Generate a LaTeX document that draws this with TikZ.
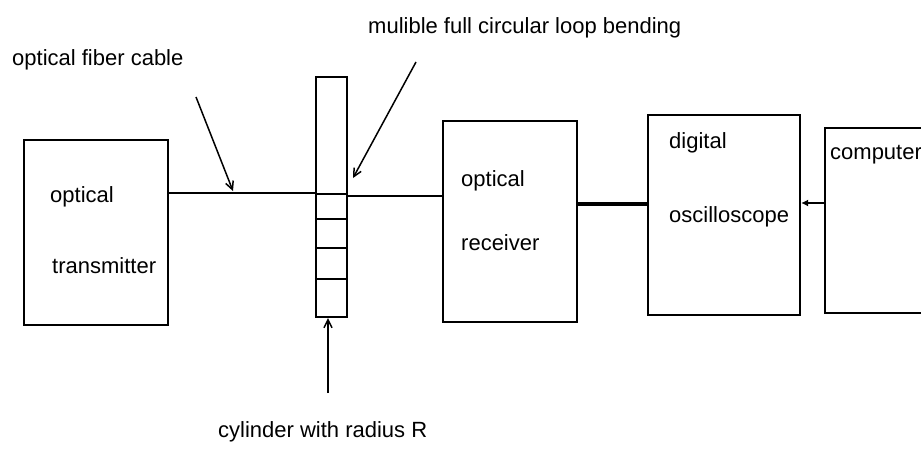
\documentclass[tikz,border=0pt]{standalone}
\usepackage{fontspec}
\setmainfont{Liberation Sans}
\usetikzlibrary{arrows.meta}
\begin{document}
\begin{tikzpicture}[x=1pt,y=-1pt,
  box/.style={draw,line width=2.2pt,inner sep=0pt},
  lbl/.style={anchor=base west,inner sep=0pt,font=\fontsize{22}{25}\selectfont},
  wire/.style={line width=2pt},
  pointer/.style={line width=1.5pt,-{Straight Barb[length=8pt,width=8pt]}}]
\useasboundingbox (0,0) rectangle (921,450);
\clip (0,0) rectangle (921,450);
% boxes
\node[box,minimum width=144pt,minimum height=185pt] (tx) at (96,232.5) {};
\node[box,minimum width=31pt,minimum height=240pt] (cyl) at (331.5,197) {};
\node[box,minimum width=134pt,minimum height=201pt] (rx) at (510,221.5) {};
\node[box,minimum width=152pt,minimum height=200pt] (osc) at (724,215) {};
\node[box,minimum width=110pt,minimum height=185pt] (pc) at (880,220.5) {};
% cylinder sections
\coordinate (s1) at (0,194);
\coordinate (s2) at (0,219);
\coordinate (s3) at (0,248);
\coordinate (s4) at (0,279);
\foreach \s in {s1,s2,s3,s4}{\draw[line width=2pt] (cyl.west |- \s) -- (cyl.east |- \s);}
% connectors
\coordinate (fa) at (0,193);
\coordinate (fb) at (0,196);
\coordinate (fc) at (0,204);
\coordinate (fd) at (0,203);
\draw[wire] (tx.east |- fa) -- (cyl.west |- fa);
\draw[wire] (cyl.east |- fb) -- (rx.west |- fb);
\draw[line width=3.2pt] (rx.east |- fc) -- (osc.west |- fc);
\draw[line width=2pt,{Latex[length=7pt,width=7pt]}-] (osc.east |- fd) -- (pc.west |- fd);
% texts
\node[lbl] (t1) at (50,202) {optical};
\node[lbl] (t2) at (52,273) {transmitter};
\node[lbl] (r1) at (461,186) {optical};
\node[lbl] (r2) at (461,250) {receiver};
\node[lbl] (o1) at (669,148) {digital};
\node[lbl] (o2) at (669,222) {oscilloscope};
\node[lbl] (c1) at (830,159) {computer};
\node[lbl] (lf) at (12,65) {optical fiber cable};
\node[lbl] (lb) at (368,33) {mulible full circular loop bending};
\node[lbl] (lc) at (218,437) {cylinder with radius R};
% pointers
\coordinate (pf0) at (196,97);
\coordinate (pf1) at (233,191);
\draw[pointer] (pf0) -- (pf1);
\coordinate (pb0) at (416,62);
\coordinate (pb1) at (353,178);
\draw[pointer] (pb0) -- (pb1);
\coordinate (pc0) at (328,393);
\draw[pointer] (pc0) -- (pc0 |- cyl.south);
\end{tikzpicture}
\end{document}
